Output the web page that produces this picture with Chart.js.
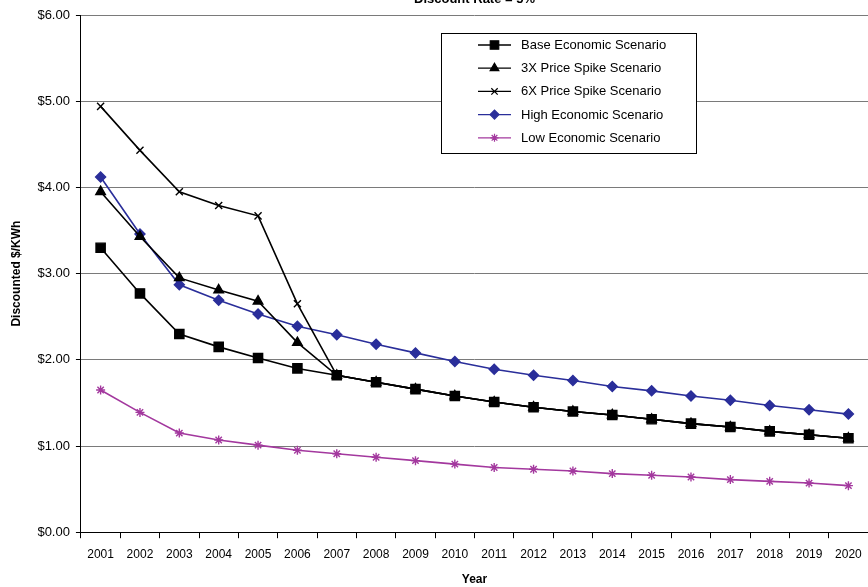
<!DOCTYPE html>
<html>
<head>
<meta charset="utf-8">
<script src="https://cdn.jsdelivr.net/npm/chart.js@4.4.1/dist/chart.umd.min.js"></script>
<style>
html, body { margin: 0; padding: 0; background: #fff; overflow: hidden; }
#wrap { position: absolute; left: 0; top: 0; width: 876px; height: 587px; }
</style>
</head>
<body>
<div id="wrap"><canvas id="chart"></canvas></div>
<script>
// data
const years = ['2001','2002','2003','2004','2005','2006','2007','2008','2009','2010',
               '2011','2012','2013','2014','2015','2016','2017','2018','2019','2020'];
const baseScenario  = [3.30, 2.77, 2.30, 2.15, 2.02, 1.90, 1.82, 1.74, 1.66, 1.58, 1.51, 1.45, 1.40, 1.36, 1.31, 1.26, 1.22, 1.17, 1.13, 1.09];
const spike3x       = [3.95, 3.43, 2.95, 2.81, 2.68, 2.20, 1.82, 1.74, 1.66, 1.58, 1.51, 1.45, 1.40, 1.36, 1.31, 1.26, 1.22, 1.17, 1.13, 1.09];
const spike6x       = [4.94, 4.43, 3.95, 3.79, 3.67, 2.65, 1.82, 1.74, 1.66, 1.58, 1.51, 1.45, 1.40, 1.36, 1.31, 1.26, 1.22, 1.17, 1.13, 1.09];
const highScenario  = [4.12, 3.46, 2.87, 2.69, 2.53, 2.39, 2.29, 2.18, 2.08, 1.98, 1.89, 1.82, 1.76, 1.69, 1.64, 1.58, 1.53, 1.47, 1.42, 1.37];
const lowScenario   = [1.65, 1.39, 1.15, 1.07, 1.01, 0.95, 0.91, 0.87, 0.83, 0.79, 0.75, 0.73, 0.71, 0.68, 0.66, 0.64, 0.61, 0.59, 0.57, 0.54];
const yTicks = [0, 1, 2, 3, 4, 5, 6];
const chartTitle = 'Discount Rate = 5%';

const FONT = "'Liberation Sans', Arial, sans-serif";

// title (mostly cut off at the top) + boxed legend inside the plot
const boxLegend = {
    id: 'boxLegend',
    afterDatasetsDraw(chart, args, opts) {
        const ctx = chart.ctx;
        const area = chart.chartArea;
        ctx.save();
        ctx.font = 'bold 13px ' + FONT;
        ctx.fillStyle = '#000';
        ctx.textAlign = 'center';
        ctx.textBaseline = 'alphabetic';
        ctx.fillText(chartTitle, (area.left + area.right) / 2, area.top - 12);

        ctx.textAlign = 'left';
        ctx.fillStyle = '#fff';
        ctx.fillRect(opts.x, opts.y, opts.w, opts.h);
        ctx.strokeStyle = '#000';
        ctx.lineWidth = 1;
        ctx.strokeRect(opts.x + 0.5, opts.y + 0.5, opts.w, opts.h);
        ctx.font = '13px ' + FONT;
        ctx.textBaseline = 'middle';
        chart.data.datasets.forEach((ds, i) => {
            const cy = opts.y + opts.top + i * opts.gap;
            const lx = opts.x + 37;
            ctx.strokeStyle = ds.borderColor;
            ctx.lineWidth = 1.3;
            ctx.beginPath();
            ctx.moveTo(lx, cy);
            ctx.lineTo(lx + 33, cy);
            ctx.stroke();
            ctx.fillStyle = ds.pointBackgroundColor;
            ctx.strokeStyle = ds.pointBorderColor;
            ctx.lineWidth = 1.2;
            Chart.helpers.drawPoint(ctx, {pointStyle: ds.pointStyle, radius: ds.pointRadius - 0.5, borderWidth: 1.2, rotation: 0}, lx + 16.5, cy);
            ctx.fillStyle = '#000';
            ctx.fillText(ds.label, lx + 43, cy + 0.5);
        });
        ctx.restore();
    }
};

const series = (label, data, color, style, radius) => ({
    label: label,
    data: data,
    borderColor: color,
    backgroundColor: color,
    pointBackgroundColor: color,
    pointBorderColor: color,
    pointStyle: style,
    pointRadius: radius,
    pointHoverRadius: radius,
    pointBorderWidth: 1.4,
    borderWidth: 1.6,
    tension: 0
});

const chartData = {
    labels: years,
    datasets: [
        series('Base Economic Scenario', baseScenario, '#000000', 'rect', 6.5),
        series('3X Price Spike Scenario', spike3x, '#000000', 'triangle', 5.5),
        series('6X Price Spike Scenario', spike6x, '#000000', 'crossRot', 5),
        series('High Economic Scenario', highScenario, '#2a2e9a', 'rectRot', 5),
        series('Low Economic Scenario', lowScenario, '#a3389e', 'star', 4.5)
    ]
};

const config = {
    type: 'line',
    data: chartData,
    options: {
        responsive: true,
        maintainAspectRatio: false,
        animation: false,
        layout: { padding: { left: 9, right: 0, top: 15, bottom: 0 } },
        scales: {
            x: {
                offset: true,
                grid: {
                    display: true,
                    drawOnChartArea: false,
                    drawTicks: true,
                    tickLength: 6,
                    color: '#000',
                    offset: true
                },
                border: { display: true, color: '#000', width: 1 },
                ticks: {
                    color: '#000',
                    font: { family: FONT, size: 12 },
                    maxRotation: 0,
                    autoSkip: false,
                    padding: 9
                },
                title: {
                    display: true,
                    text: 'Year',
                    color: '#000',
                    font: { family: FONT, size: 12, weight: 'bold' },
                    padding: { top: 2, bottom: 0 }
                }
            },
            y: {
                min: 0,
                max: 6,
                afterBuildTicks: axis => { axis.ticks = yTicks.map(v => ({ value: v })); },
                grid: {
                    color: '#7a7a7a',
                    lineWidth: 1,
                    drawTicks: true,
                    tickLength: 5,
                    tickColor: '#000'
                },
                border: { display: true, color: '#000', width: 1 },
                ticks: {
                    color: '#000',
                    font: { family: FONT, size: 13 },
                    padding: 6,
                    callback: v => '$' + Number(v).toFixed(2)
                },
                title: {
                    display: true,
                    text: 'Discounted $/KWh',
                    color: '#000',
                    font: { family: FONT, size: 12, weight: 'bold' },
                    padding: { top: 0, bottom: 8 }
                }
            }
        },
        plugins: {
            legend: { display: false },
            tooltip: { enabled: false },
            title: { display: false },
            boxLegend: { x: 441, y: 33, w: 255, h: 120, top: 12, gap: 23.2 }
        }
    },
    plugins: [boxLegend]
};

const chart = new Chart(document.getElementById('chart'), config);
</script>
</body>
</html>
